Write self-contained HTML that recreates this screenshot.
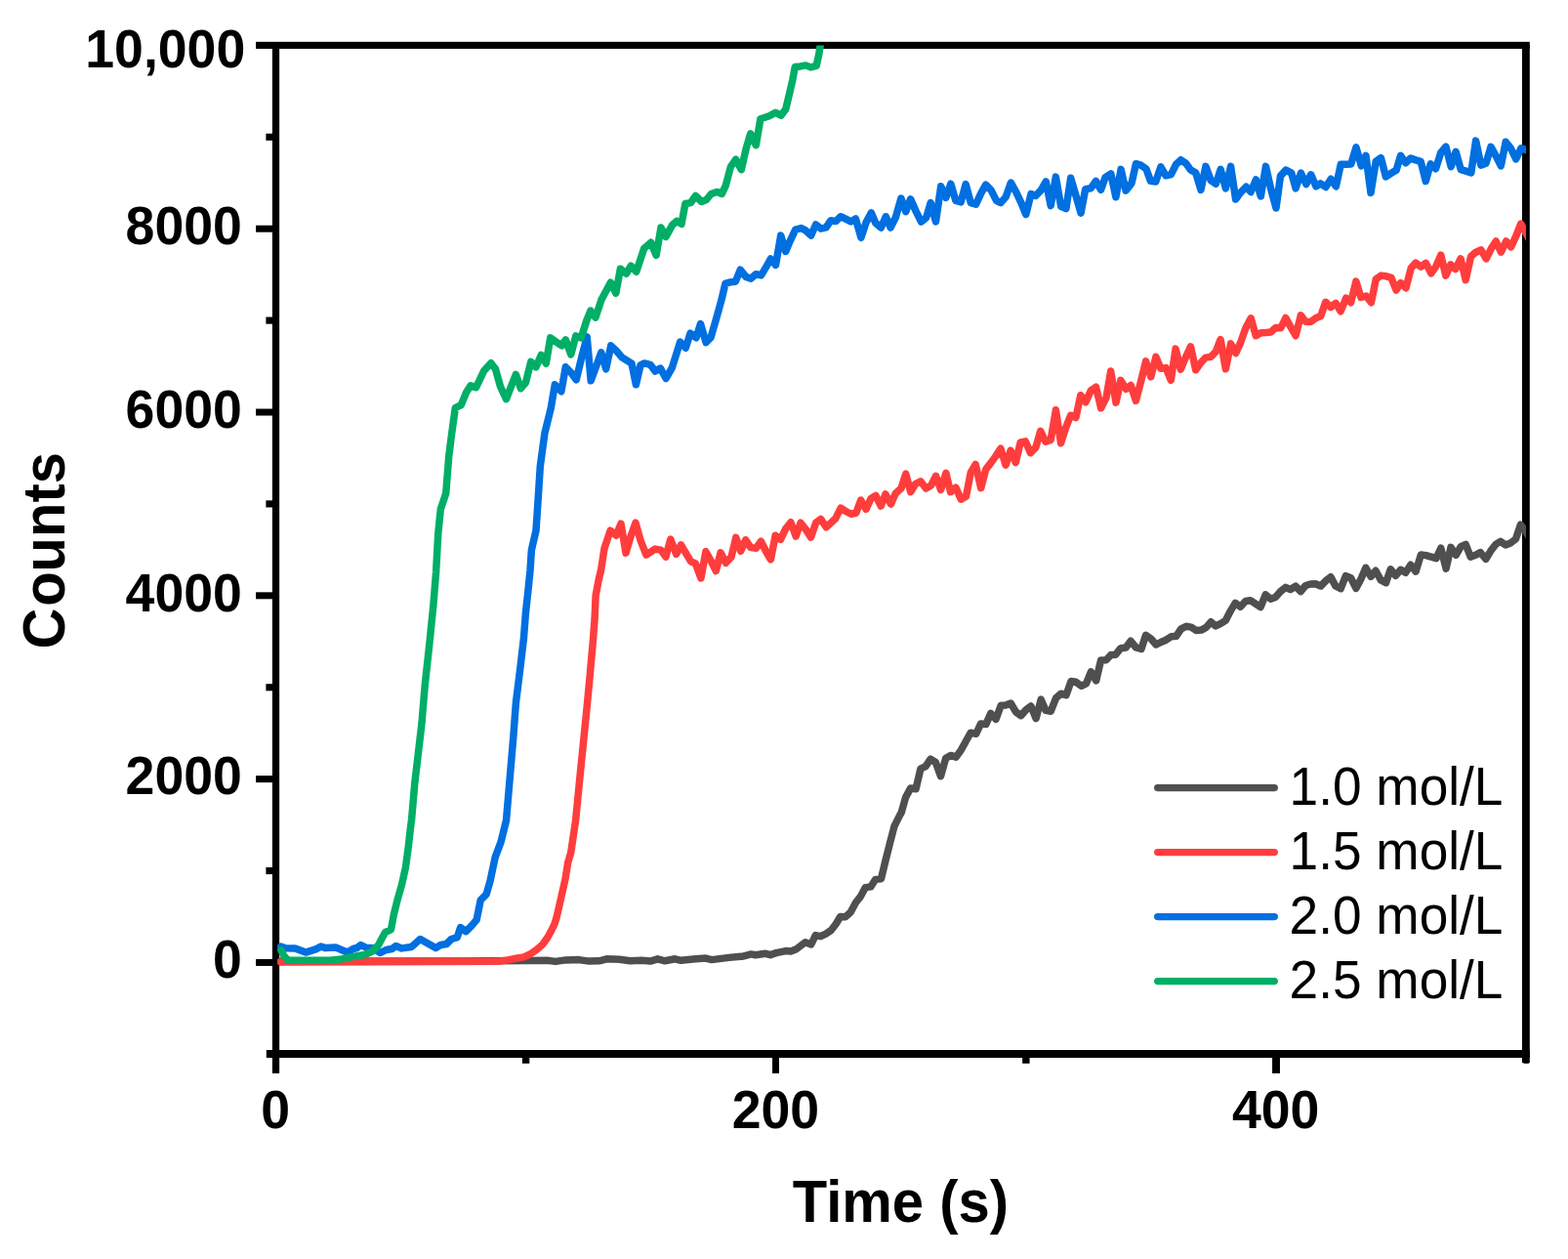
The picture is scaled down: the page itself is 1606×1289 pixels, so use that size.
<!DOCTYPE html>
<html><head><meta charset="utf-8"><title>Counts vs Time</title>
<style>
html,body{margin:0;padding:0;background:#fff;}
body{width:1606px;height:1289px;overflow:hidden;}
svg{display:block;}
text{font-family:"Liberation Sans",Arial,Helvetica,sans-serif;fill:#000;}
.tk{font-weight:bold;font-size:53.6px;}
.ti{font-weight:bold;font-size:58px;}
.lg{font-size:53.2px;}
.c{fill:none;stroke-width:7.5;stroke-linejoin:round;stroke-linecap:round;}
</style></head><body>
<svg width="1606" height="1289" viewBox="0 0 1606 1289">
<rect x="0" y="0" width="1606" height="1289" fill="#ffffff"/>
<defs><clipPath id="cp"><rect x="278.5" y="46.4" width="1284.5" height="1032.6"/></clipPath></defs>

<g fill="#000">
<rect x="262.10" y="42.80" width="1304.70" height="7.15"/>
<rect x="278.90" y="45.80" width="7.25" height="1053.10"/>
<rect x="1559.00" y="45.80" width="7.80" height="1042.40"/>
<rect x="1560.50" y="1078.00" width="5.40" height="10.80"/>
<rect x="272.80" y="1075.00" width="1294.00" height="8.00"/>
<rect x="262.10" y="981.94" width="20.42" height="7.00"/>
<rect x="262.10" y="794.13" width="20.42" height="7.00"/>
<rect x="262.10" y="606.32" width="20.42" height="7.00"/>
<rect x="262.10" y="418.52" width="20.42" height="7.00"/>
<rect x="262.10" y="230.71" width="20.42" height="7.00"/>
<rect x="272.40" y="887.99" width="10.12" height="7.10"/>
<rect x="272.40" y="700.18" width="10.12" height="7.10"/>
<rect x="272.40" y="512.37" width="10.12" height="7.10"/>
<rect x="272.40" y="324.56" width="10.12" height="7.10"/>
<rect x="272.40" y="136.75" width="10.12" height="7.10"/>
<rect x="791.06" y="1079.00" width="6.90" height="19.90"/>
<rect x="1303.06" y="1079.00" width="7.90" height="19.90"/>
<rect x="534.92" y="1079.00" width="7.40" height="9.80"/>
<rect x="1047.17" y="1079.00" width="7.40" height="9.80"/>
</g>
<g clip-path="url(#cp)">
<polyline class="c" stroke="#4f4f4f" points="287.6,984.1 400.0,984.0 470.0,983.9 540.0,983.5 560.0,983.3 569.0,984.4 579.4,982.9 592.9,982.6 603.3,984.1 613.8,983.8 621.3,981.8 634.7,982.3 645.2,983.8 657.1,983.3 666.1,984.1 673.6,981.8 681.0,983.8 691.5,981.8 697.5,983.3 712.4,981.8 722.9,981.1 728.9,982.6 746.8,980.4 761.7,978.9 769.2,976.9 773.7,977.8 784.2,976.3 789.0,977.7 794.9,975.6 804.7,973.6 809.9,974.1 815.1,972.1 820.3,968.1 824.8,964.7 830.8,966.9 835.3,957.6 840.5,958.7 845.8,956.2 851.0,952.7 856.2,946.0 860.7,938.5 865.9,938.8 871.2,934.0 876.4,924.3 881.6,917.6 886.4,908.6 891.8,907.9 896.6,900.4 902.5,899.7 907.0,881.0 911.5,863.1 916.0,845.9 922.0,833.9 923.2,832.0 927.6,816.3 932.6,807.1 938.1,807.7 942.9,787.2 948.1,784.7 953.1,777.2 958.3,780.5 963.5,794.7 968.7,776.3 974.0,773.4 979.2,775.2 984.4,767.8 989.4,758.8 994.1,750.3 999.8,751.3 1004.6,740.9 1009.8,741.6 1014.8,730.4 1020.0,736.4 1025.2,722.2 1030.0,721.9 1035.2,720.0 1040.5,728.9 1045.7,732.7 1050.9,726.7 1055.9,722.9 1061.1,735.6 1066.2,716.2 1071.1,727.4 1076.3,728.2 1081.6,714.7 1086.8,710.2 1092.0,711.7 1097.0,697.5 1102.0,698.3 1107.4,702.3 1112.5,699.8 1117.4,687.8 1122.7,696.8 1127.6,675.9 1133.0,675.7 1137.8,670.5 1142.7,670.2 1147.9,663.7 1153.2,663.0 1158.1,656.3 1163.6,663.0 1168.9,664.5 1173.6,650.3 1178.9,654.0 1184.1,660.0 1189.0,657.5 1194.3,655.2 1199.5,651.8 1204.7,651.3 1209.7,643.9 1214.9,641.3 1220.1,642.1 1225.2,645.5 1230.4,645.1 1235.4,642.4 1240.3,636.8 1245.1,640.9 1250.0,638.6 1255.2,635.4 1260.3,625.6 1265.2,617.4 1270.5,621.2 1275.7,615.5 1280.6,614.7 1285.9,618.2 1291.1,621.5 1296.2,608.8 1301.4,613.2 1306.3,611.4 1311.6,605.5 1316.8,601.3 1321.7,603.5 1327.0,600.2 1332.2,605.5 1337.3,599.5 1342.2,598.0 1347.4,597.7 1352.7,600.0 1357.8,594.8 1363.0,590.7 1367.9,600.0 1373.2,602.7 1378.4,589.6 1383.6,591.8 1388.9,602.3 1394.1,592.5 1398.9,581.3 1404.1,590.3 1409.0,584.3 1414.3,594.0 1419.5,596.7 1424.3,582.8 1429.5,589.3 1434.7,583.3 1439.7,586.3 1444.9,578.3 1450.1,585.1 1455.4,567.9 1460.6,568.6 1465.8,570.1 1471.0,571.6 1475.8,561.2 1481.1,582.1 1486.0,560.4 1491.2,568.3 1496.2,559.7 1501.2,557.4 1506.2,570.1 1511.4,568.3 1516.3,565.6 1521.9,572.4 1526.8,564.1 1531.9,557.4 1536.8,554.4 1542.0,557.9 1547.3,555.9 1552.5,551.9 1557.4,537.2 1562.2,543.2 1566.7,550.7"/>
<polyline class="c" stroke="#ff3d3d" points="287.6,984.9 300.0,984.9 380.0,984.7 450.0,984.4 505.0,984.3 512.0,984.0 520.2,982.9 530.0,981.0 536.7,979.9 543.3,976.7 550.0,972.0 556.0,966.7 560.7,960.0 564.4,953.4 567.7,946.7 569.9,940.0 573.0,926.7 576.0,913.3 579.0,900.0 581.7,883.1 584.7,873.0 589.6,840.0 594.2,793.2 598.2,753.4 601.6,719.5 604.2,691.6 607.1,659.7 609.1,633.8 610.1,609.9 613.1,594.0 615.5,584.0 619.1,561.1 625.1,543.2 631.1,548.2 636.0,536.2 641.0,566.1 646.0,549.2 651.0,535.2 656.0,553.2 661.9,568.1 670.9,562.1 676.9,563.1 681.9,570.1 686.8,552.2 692.7,567.3 697.5,557.9 702.7,566.6 707.6,574.8 712.4,577.0 717.9,592.0 722.9,564.8 728.1,574.0 733.3,584.5 738.1,565.8 743.5,576.3 749.0,570.3 753.8,550.4 758.7,564.3 763.7,552.8 768.9,560.6 774.4,561.3 779.4,554.3 784.4,564.3 789.4,572.8 794.2,548.3 799.5,552.4 804.8,541.2 809.9,534.7 815.2,549.1 820.0,535.2 825.2,541.9 830.5,550.1 835.7,535.2 840.6,531.4 846.2,539.7 851.1,535.2 855.9,530.7 861.1,520.2 866.3,523.5 871.6,526.2 876.8,525.2 881.7,512.0 887.0,521.3 892.0,510.5 897.0,507.5 902.2,518.0 907.0,506.0 912.4,516.1 917.4,505.0 923.0,500.0 927.8,485.1 932.7,503.7 937.6,495.5 942.9,492.8 948.4,500.0 953.6,497.0 958.6,487.3 963.6,501.5 968.9,484.3 973.5,503.7 979.0,499.3 984.3,511.2 989.5,508.2 994.3,483.6 999.2,475.4 1004.7,499.7 1009.7,480.6 1014.9,473.9 1019.8,467.1 1024.9,459.2 1030.1,476.1 1035.1,461.2 1040.3,473.6 1045.2,452.9 1050.3,451.9 1055.5,463.7 1060.8,458.2 1065.7,441.3 1070.9,452.2 1076.2,450.4 1081.4,419.8 1086.6,453.7 1091.9,437.2 1096.6,425.3 1101.9,427.5 1106.8,404.7 1112.0,411.8 1117.3,399.9 1122.5,396.2 1127.7,417.8 1133.0,407.4 1137.7,380.0 1143.0,412.1 1147.9,389.4 1153.3,398.2 1158.2,394.5 1163.4,410.2 1168.7,390.0 1173.6,369.8 1178.8,385.8 1183.9,365.4 1188.9,377.3 1194.1,376.6 1199.3,389.3 1204.1,357.1 1209.3,378.1 1214.3,366.1 1219.5,354.9 1224.7,378.8 1230.0,371.3 1234.9,366.1 1240.1,365.4 1245.2,360.1 1250.1,347.7 1255.4,377.8 1260.6,351.9 1265.8,361.6 1270.7,350.4 1276.0,335.5 1281.2,325.8 1286.3,343.7 1291.5,340.7 1296.7,340.4 1301.7,340.0 1306.6,335.5 1311.8,335.8 1316.9,325.5 1321.9,334.7 1327.1,343.7 1332.3,322.8 1337.2,329.2 1342.5,329.5 1347.6,325.8 1352.8,323.5 1357.7,309.3 1363.0,314.5 1368.2,310.5 1373.2,318.7 1378.7,305.2 1383.6,309.7 1388.9,288.1 1393.9,304.5 1399.2,303.0 1404.4,309.7 1409.3,285.8 1414.6,282.1 1419.8,282.8 1425.0,284.3 1430.0,297.0 1434.7,289.6 1440.0,294.8 1445.2,274.6 1450.1,269.1 1455.2,273.1 1460.4,269.4 1465.8,279.8 1470.6,273.1 1475.8,261.2 1480.8,282.1 1485.9,270.9 1490.8,275.4 1496.0,264.9 1501.2,286.6 1506.5,262.7 1511.7,258.2 1516.9,255.9 1522.2,264.9 1527.4,254.4 1532.2,247.0 1537.4,258.2 1542.6,247.0 1547.6,252.9 1552.8,241.7 1557.7,229.0 1563.0,238.7 1567.7,247.7"/>
<polyline class="c" stroke="#006fe0" points="287.6,969.1 292.4,970.8 302.3,970.9 313.1,975.1 323.3,971.9 328.7,969.1 333.7,970.6 343.7,969.9 349.7,972.5 355.7,974.9 361.7,971.5 365.6,970.5 369.6,967.5 375.6,970.5 381.6,970.5 389.6,975.5 395.5,972.5 401.5,971.5 405.5,968.5 411.5,970.9 421.4,969.5 430.4,961.5 437.4,965.5 446.3,970.5 451.3,967.5 457.3,966.5 462.3,961.5 468.3,959.6 471.6,949.6 477.2,953.6 483.2,947.6 488.2,941.6 492.2,921.7 498.1,915.7 502.1,901.8 507.1,877.9 513.1,861.9 518.5,840.0 522.5,793.2 525.9,753.4 528.4,719.5 532.4,687.6 536.4,653.7 538.4,627.8 541.0,603.9 543.0,584.0 544.4,563.1 549.0,543.2 551.4,507.3 553.3,477.4 557.9,443.6 564.3,417.7 568.3,393.8 574.9,400.7 579.3,375.8 585.2,381.8 590.2,388.8 596.2,363.9 601.2,344.9 605.2,389.8 611.1,373.8 615.7,360.9 620.7,377.8 625.7,353.9 631.1,358.9 637.0,365.9 647.0,372.2 651.4,393.8 656.0,373.8 660.0,371.9 666.0,373.3 671.2,380.1 676.4,377.1 682.1,387.5 688.4,376.3 696.6,350.2 702.3,356.2 707.1,341.2 713.1,345.7 717.5,331.5 723.1,350.6 728.0,345.7 734.7,322.5 739.2,306.1 742.9,290.4 748.2,288.9 753.4,288.2 758.3,276.2 763.9,283.4 769.1,285.2 774.3,280.7 779.6,281.9 784.8,273.2 789.3,265.0 794.5,271.4 799.7,241.1 804.7,257.5 809.4,246.3 814.7,235.1 820.6,233.6 825.1,235.9 830.7,241.1 835.6,229.9 840.8,234.1 846.1,232.9 851.0,225.7 856.1,226.6 861.0,221.7 866.2,224.2 871.5,226.9 876.4,223.9 881.9,243.3 887.1,227.6 892.4,217.9 896.9,228.4 902.4,233.0 907.3,221.8 912.1,233.0 917.4,222.5 922.9,203.1 927.8,216.6 932.6,203.9 938.3,216.6 943.5,227.0 948.7,222.8 953.2,207.6 958.5,227.0 963.7,190.7 968.9,202.4 973.8,188.2 978.9,205.4 984.2,206.8 989.1,188.6 994.3,207.6 999.6,209.1 1004.8,197.9 1009.7,189.2 1015.2,194.9 1020.5,205.4 1025.0,207.6 1030.2,201.6 1035.4,187.1 1040.6,196.4 1045.9,207.6 1050.8,219.6 1056.0,198.6 1060.8,200.4 1066.1,194.9 1071.3,185.9 1076.2,210.6 1081.4,181.1 1086.7,211.3 1091.9,213.6 1096.7,182.2 1101.9,200.1 1107.1,218.1 1111.7,193.6 1117.2,192.8 1122.4,185.4 1127.6,194.3 1132.1,181.6 1137.8,177.9 1142.9,201.8 1148.1,173.4 1153.1,195.1 1159.0,187.6 1163.5,167.7 1168.7,169.2 1174.0,173.0 1178.5,185.4 1183.7,186.1 1188.9,170.9 1194.1,179.8 1199.4,178.6 1204.6,168.2 1209.5,163.7 1214.8,167.4 1219.6,174.1 1224.8,177.1 1230.0,194.3 1234.9,170.4 1240.2,184.6 1245.3,188.3 1250.2,173.4 1255.4,192.8 1260.6,170.4 1265.6,204.0 1271.1,196.6 1276.3,191.3 1281.1,196.6 1286.4,183.9 1291.3,201.0 1296.5,170.4 1301.7,193.6 1307.0,213.0 1311.5,180.1 1317.0,174.1 1322.7,177.1 1327.1,192.8 1332.4,177.1 1337.8,188.5 1342.7,178.8 1347.9,190.8 1352.4,187.8 1357.9,191.5 1363.2,183.3 1368.4,190.8 1373.3,168.3 1378.6,168.3 1383.8,167.9 1389.0,150.9 1394.3,169.8 1399.0,159.4 1404.0,197.5 1409.2,165.4 1414.4,161.6 1419.4,181.0 1424.9,177.3 1430.1,174.3 1434.6,159.4 1439.8,166.8 1444.8,162.1 1450.0,163.9 1455.2,165.4 1460.3,185.5 1465.2,167.9 1470.5,172.8 1475.7,156.4 1480.9,150.1 1486.2,170.6 1491.1,155.3 1496.2,173.6 1501.4,175.1 1506.8,176.9 1511.6,144.1 1516.8,169.1 1522.0,167.3 1527.0,150.4 1532.0,159.4 1537.3,169.8 1542.2,145.2 1547.4,151.9 1552.7,162.8 1557.9,151.9 1563.1,153.4 1569.1,157.1"/>
<polyline class="c" stroke="#00ae66" points="287.9,972.9 290.9,978.9 294.9,983.1 309.8,983.3 340.0,982.9 349.7,981.9 363.6,979.1 373.6,977.5 381.6,973.9 387.6,967.5 394.5,954.6 400.5,951.6 403.5,935.6 407.5,919.7 411.5,905.8 415.5,887.8 418.4,865.9 420.4,848.0 421.6,838.9 424.8,801.7 427.2,781.5 431.9,741.2 435.3,700.9 439.7,660.6 443.8,620.3 446.6,586.0 448.7,547.2 451.3,521.3 456.7,505.3 459.7,467.5 462.7,443.6 466.3,417.7 472.3,414.7 477.6,401.7 482.0,394.7 487.6,396.7 495.6,379.8 502.9,371.8 507.5,377.8 512.5,395.7 518.5,408.7 523.5,395.7 528.4,383.4 533.4,397.7 538.4,391.8 543.8,370.4 549.0,375.8 554.3,363.5 559.3,372.2 563.7,345.9 569.3,349.9 575.3,353.9 579.3,347.9 584.8,362.9 589.8,343.9 595.2,345.9 600.9,328.0 604.9,318.1 609.9,325.1 615.9,307.1 625.4,289.2 630.8,300.1 635.4,275.2 641.4,280.2 646.2,272.2 651.7,278.2 659.7,254.3 666.7,248.3 672.1,261.3 677.0,233.0 682.0,242.4 688.6,230.4 693.2,226.4 698.0,229.4 701.9,208.5 707.5,207.5 712.5,200.5 718.5,206.5 723.5,204.5 728.4,198.5 734.4,196.5 739.4,198.5 743.4,189.6 748.4,170.6 753.7,163.3 759.3,173.6 764.3,151.7 768.7,136.8 774.3,148.7 778.9,121.7 787.9,118.7 794.4,115.2 799.9,118.2 804.8,111.7 808.8,94.8 811.8,81.8 814.3,68.4 819.8,67.9 825.3,66.9 830.2,68.9 836.2,67.4 838.7,55.9 840.2,46.4 841.9,34.0"/>
</g>
<text class="tk" text-anchor="end" transform="translate(247.80,1001.24) scale(1,1.04)">0</text>
<text class="tk" text-anchor="end" transform="translate(247.80,813.43) scale(1,1.04)">2000</text>
<text class="tk" text-anchor="end" transform="translate(247.80,625.62) scale(1,1.04)">4000</text>
<text class="tk" text-anchor="end" transform="translate(247.80,437.82) scale(1,1.04)">6000</text>
<text class="tk" text-anchor="end" transform="translate(247.80,250.01) scale(1,1.04)">8000</text>
<text class="tk" text-anchor="end" transform="translate(251.20,68.50) scale(1,1.04)">10,000</text>
<text class="tk" text-anchor="middle" transform="translate(282.10,1155.45) scale(1,1.04)">0</text>
<text class="tk" text-anchor="middle" transform="translate(794.35,1155.45) scale(1,1.04)">200</text>
<text class="tk" text-anchor="middle" transform="translate(1306.60,1155.45) scale(1,1.04)">400</text>
<text class="ti" text-anchor="middle" transform="translate(922.40,1250.70) scale(1,1.045)">Time (s)</text>
<text class="ti" text-anchor="start" transform="translate(66,662.7) rotate(-90) scale(1,1.045)" dx="-1.8 1.8">Counts</text>
<line x1="1185.6" x2="1305.4" y1="806.6" y2="806.6" stroke="#4f4f4f" stroke-width="7.15" stroke-linecap="round"/>
<text class="lg" text-anchor="start" transform="translate(1320.60,824.30) scale(1,1.03)">1.0 mol/L</text>
<line x1="1185.6" x2="1305.4" y1="872.6" y2="872.6" stroke="#ff3d3d" stroke-width="7.15" stroke-linecap="round"/>
<text class="lg" text-anchor="start" transform="translate(1320.60,890.30) scale(1,1.03)">1.5 mol/L</text>
<line x1="1185.6" x2="1305.4" y1="938.6" y2="938.6" stroke="#006fe0" stroke-width="7.15" stroke-linecap="round"/>
<text class="lg" text-anchor="start" transform="translate(1320.60,956.30) scale(1,1.03)">2.0 mol/L</text>
<line x1="1185.6" x2="1305.4" y1="1004.6" y2="1004.6" stroke="#00ae66" stroke-width="7.15" stroke-linecap="round"/>
<text class="lg" text-anchor="start" transform="translate(1320.60,1022.30) scale(1,1.03)">2.5 mol/L</text>
</svg>
</body></html>
